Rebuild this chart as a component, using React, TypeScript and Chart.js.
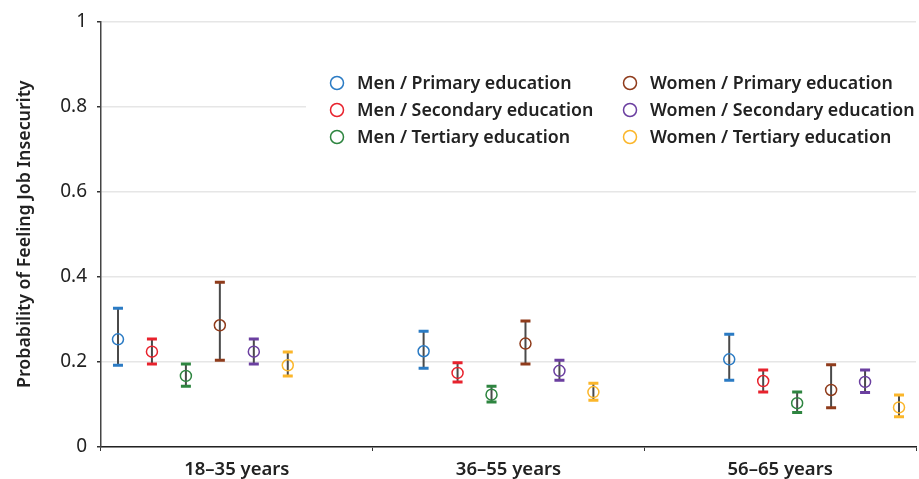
import React, { useEffect, useRef } from "react";
import { Chart, registerables } from "chart.js";

Chart.register(...registerables);

const ageGroups = ["18–35 years", "36–55 years", "56–65 years"];
const seriesNames = [
  "Men / Primary education",
  "Men / Secondary education",
  "Men / Tertiary education",
  "Women / Primary education",
  "Women / Secondary education",
  "Women / Tertiary education",
];
const seriesColors = ["#2b7bc4", "#e8222d", "#2e8540", "#8f3b1b", "#6b3fa0", "#fbb62a"];

const menPrimaryEst = [0.253, 0.225, 0.206];
const menPrimaryLow = [0.192, 0.185, 0.157];
const menPrimaryHigh = [0.326, 0.272, 0.265];

const menSecondaryEst = [0.224, 0.174, 0.155];
const menSecondaryLow = [0.195, 0.153, 0.129];
const menSecondaryHigh = [0.254, 0.198, 0.181];

const menTertiaryEst = [0.167, 0.123, 0.103];
const menTertiaryLow = [0.143, 0.106, 0.081];
const menTertiaryHigh = [0.195, 0.143, 0.129];

const womenPrimaryEst = [0.286, 0.243, 0.134];
const womenPrimaryLow = [0.204, 0.195, 0.092];
const womenPrimaryHigh = [0.387, 0.296, 0.193];

const womenSecondaryEst = [0.224, 0.179, 0.153];
const womenSecondaryLow = [0.195, 0.157, 0.128];
const womenSecondaryHigh = [0.254, 0.204, 0.181];

const womenTertiaryEst = [0.192, 0.129, 0.093];
const womenTertiaryLow = [0.167, 0.110, 0.071];
const womenTertiaryHigh = [0.223, 0.150, 0.122];

const yTicks = [0, 0.2, 0.4, 0.6, 0.8, 1];

const estimates = [menPrimaryEst, menSecondaryEst, menTertiaryEst, womenPrimaryEst, womenSecondaryEst, womenTertiaryEst];
const lows = [menPrimaryLow, menSecondaryLow, menTertiaryLow, womenPrimaryLow, womenSecondaryLow, womenTertiaryLow];
const highs = [menPrimaryHigh, menSecondaryHigh, menTertiaryHigh, womenPrimaryHigh, womenSecondaryHigh, womenTertiaryHigh];

const FONT = "'Noto Sans', sans-serif";

const errorBarPlugin = {
  id: "errorBars",
  beforeDatasetsDraw(chart: any) {
    const ctx = chart.ctx;
    const xs = chart.scales.xPos;
    const ys = chart.scales.y;
    ctx.save();
    chart.data.datasets.forEach((ds: any, i: number) => {
      ds.data.forEach((pt: any, j: number) => {
        const x = xs.getPixelForValue(pt.x);
        const yl = ys.getPixelForValue(lows[i][j]);
        const yh = ys.getPixelForValue(highs[i][j]);
        ctx.strokeStyle = "#4a4a4a";
        ctx.lineWidth = 2;
        ctx.beginPath();
        ctx.moveTo(x, yl);
        ctx.lineTo(x, yh);
        ctx.stroke();
        ctx.strokeStyle = seriesColors[i];
        ctx.lineWidth = 3;
        ctx.beginPath();
        ctx.moveTo(x - 5, yl);
        ctx.lineTo(x + 5, yl);
        ctx.moveTo(x - 5, yh);
        ctx.lineTo(x + 5, yh);
        ctx.stroke();
      });
    });
    ctx.restore();
  },
};

const legendPlugin = {
  id: "customLegend",
  afterDatasetsDraw(chart: any) {
    const ctx = chart.ctx;
    ctx.save();
    ctx.fillStyle = "#ffffff";
    ctx.fillRect(306, 66, 612, 86);
    ctx.font = `600 17.8px ${FONT}`;
    ctx.textBaseline = "middle";
    ctx.textAlign = "left";
    const colX = [337, 630];
    const rowY = [83, 110, 137];
    seriesNames.forEach((name, i) => {
      const c = Math.floor(i / 3);
      const r = i % 3;
      ctx.strokeStyle = seriesColors[i];
      ctx.lineWidth = 1.5;
      ctx.beginPath();
      ctx.arc(colX[c], rowY[r], 6.5, 0, Math.PI * 2);
      ctx.stroke();
      ctx.fillStyle = "#222";
      ctx.fillText(name, colX[c] + 20, rowY[r] + 1);
    });
    ctx.restore();
  },
};

export default function App() {
  const ref = useRef<HTMLCanvasElement | null>(null);
  useEffect(() => {
    if (!ref.current) return;
    const datasets = seriesNames.map((name, i) => ({
      label: name,
      xAxisID: "xPos",
      yAxisID: "y",
      data: estimates[i].map((v, g) => ({ x: g * 9 + i + 0.5, y: v })),
      showLine: false,
      borderColor: seriesColors[i],
      backgroundColor: "rgba(0,0,0,0)",
      pointBackgroundColor: "rgba(0,0,0,0)",
      pointBorderColor: seriesColors[i],
      pointBorderWidth: 1.5,
      pointRadius: 5.5,
      pointHoverRadius: 5.5,
    }));
    const chart = new Chart(ref.current, {
      type: "scatter",
      data: { labels: ageGroups, datasets },
      plugins: [errorBarPlugin, legendPlugin],
      options: {
        animation: false,
        responsive: false,
        maintainAspectRatio: false,
        layout: { autoPadding: false, padding: { top: 21, right: 3, left: 0, bottom: 0 } },
        plugins: { legend: { display: false }, tooltip: { enabled: false } },
        scales: {
          x: {
            type: "category",
            labels: ageGroups,
            position: "bottom",
            offset: true,
            grid: { offset: true, drawOnChartArea: false, tickLength: 4, tickColor: "#333", lineWidth: 1 },
            border: { color: "#222", width: 1.5 },
            ticks: { color: "#222", font: { family: FONT, size: 18.5, weight: "600" }, padding: 8 },
            afterFit(scale: any) {
              scale.height = 32;
              scale.paddingLeft = 0;
              scale.paddingRight = 0;
            },
          },
          xPos: {
            type: "linear",
            display: false,
            min: 0,
            max: 24,
          },
          y: {
            type: "linear",
            min: 0,
            max: 1,
            afterBuildTicks(scale: any) { scale.ticks = yTicks.map((v) => ({ value: v })); },
            ticks: {
              color: "#222",
              font: { family: FONT, size: 19 },
              padding: 10,
              callback: (v: any) => (v === 0 ? "0" : v === 1 ? "1" : Number(v).toFixed(1)),
            },
            grid: { color: "#e6e6e6", lineWidth: 1.5, tickLength: 4, tickColor: "#333" },
            border: { color: "#444", width: 1.5 },
            title: {
              display: true,
              text: "Probability of Feeling Job Insecurity",
              color: "#222",
              font: { family: FONT, size: 17.8, weight: "600" },
              padding: { top: 14, bottom: 0 },
            },
            afterFit(scale: any) { scale.width = 101; },
          },
        },
      },
    });
    return () => chart.destroy();
  }, []);
  return (
    <div style={{ position: "fixed", left: 0, top: 0, width: 919, height: 479, background: "#fff" }}>
      <canvas ref={ref} width={919} height={479} style={{ display: "block" }} />
    </div>
  );
}
